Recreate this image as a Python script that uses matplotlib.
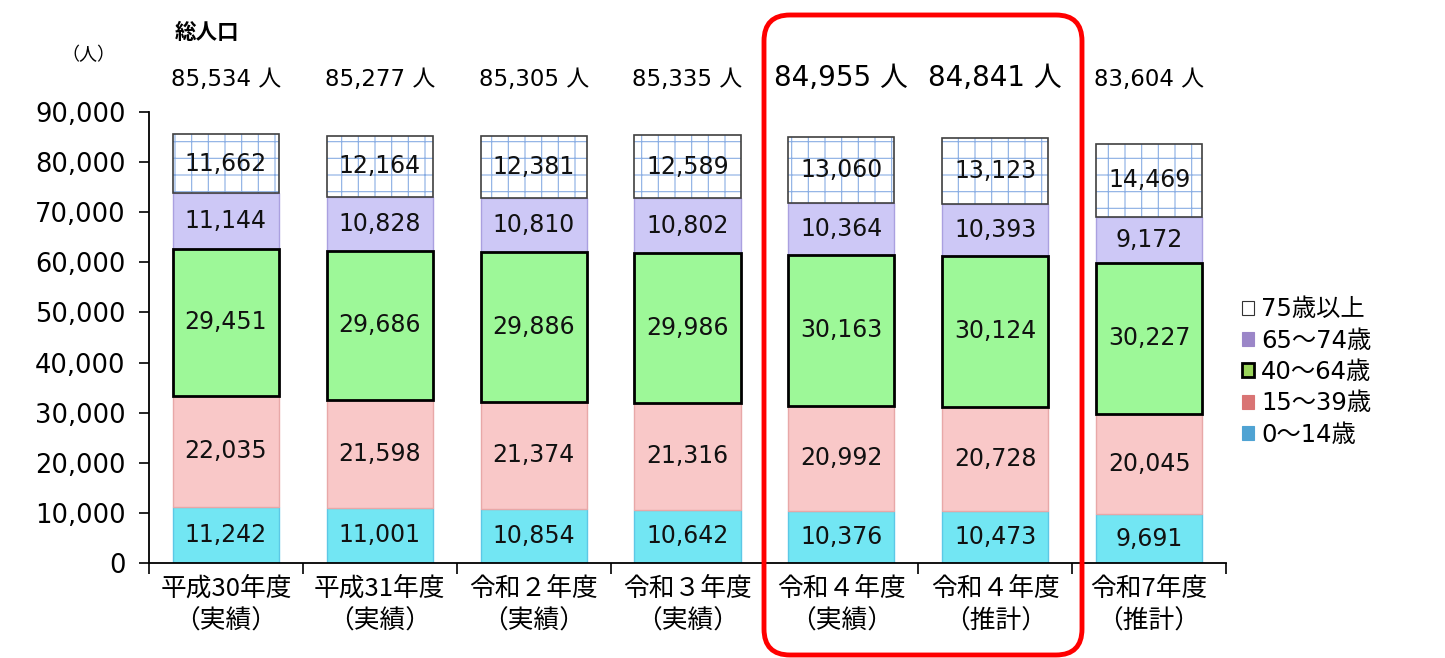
import matplotlib
matplotlib.use("Agg")
import matplotlib.pyplot as plt
import numpy as np
from matplotlib.patches import Patch, FancyBboxPatch
from matplotlib.transforms import IdentityTransform

plt.rcParams['font.family'] = ['DejaVu Sans', 'Noto Sans CJK JP']
plt.rcParams['hatch.linewidth'] = 0.8

categories = ["平成30年度\n（実績）", "平成31年度\n（実績）", "令和２年度\n（実績）",
              "令和３年度\n（実績）", "令和４年度\n（実績）", "令和４年度\n（推計）",
              "令和7年度\n（推計）"]
age_0_14 = [11242, 11001, 10854, 10642, 10376, 10473, 9691]
age_15_39 = [22035, 21598, 21374, 21316, 20992, 20728, 20045]
age_40_64 = [29451, 29686, 29886, 29986, 30163, 30124, 30227]
age_65_74 = [11144, 10828, 10810, 10802, 10364, 10393, 9172]
age_75_up = [11662, 12164, 12381, 12589, 13060, 13123, 14469]
highlight = [False, False, False, False, True, True, False]

series = [age_0_14, age_15_39, age_40_64, age_65_74, age_75_up]
names = ["0～14歳", "15～39歳", "40～64歳", "65～74歳", "75歳以上"]
fills = ["#72e6f3", "#f9c8c8", "#9df898", "#cdc8f6", "#ffffff"]
edges = ["#5cc8e6", "#e8a8a8", "#000000", "#aaa0e0", "#404040"]
lws = [1.0, 1.0, 2.0, 1.0, 1.2]
legend_fill = ["#4fa3d3", "#d97474", "#9bd55b", "#9b86c8", "#ffffff"]
legend_edge = ["#4fa3d3", "#d97474", "#000000", "#9b86c8", "#333333"]

fig = plt.figure(figsize=(14.45, 6.58), dpi=100)
ax = fig.add_axes([149 / 1445, 1 - 563 / 658, (1226 - 149) / 1445, (563 - 112) / 658])

x = np.arange(len(categories))
width = 0.69
bottom = np.zeros(len(categories))
for i, (vals, fc, ec, lw) in enumerate(zip(series, fills, edges, lws)):
    vals = np.array(vals)
    if i == 4:
        ax.bar(x, vals, width, bottom=bottom, color=fc, edgecolor="#8aaee3",
               linewidth=0, hatch="+", zorder=2)
        ax.bar(x, vals, width, bottom=bottom, color="none", edgecolor=ec,
               linewidth=lw, zorder=3)
    else:
        ax.bar(x, vals, width, bottom=bottom, color=fc, edgecolor=ec,
               linewidth=lw, zorder=3 if i == 2 else 2)
    for xi, b, v in zip(x, bottom, vals):
        ax.text(xi, b + v / 2, f"{v:,}", ha="center", va="center",
                fontsize=17, zorder=5, color="#111111")
    bottom = bottom + vals

totals = bottom
for xi, t, h in zip(x, totals, highlight):
    ax.text(xi, 96700 if h else 96400, f"{int(t):,} 人", ha="center", va="center",
            fontsize=20 if h else 16.5, clip_on=False)

ax.set_xlim(-0.5, len(categories) - 0.5)
ax.set_ylim(0, 90000)
ax.set_yticks(np.arange(0, 90001, 10000))
ax.set_yticklabels([f"{v:,}" for v in range(0, 90001, 10000)], fontsize=18.5)
ax.set_xticks(x)
ax.set_xticklabels(categories, fontsize=18.5, linespacing=1.35,
                   family=['Noto Sans CJK JP'])
ax.set_xticks(np.arange(-0.5, len(categories), 1.0), minor=True)
ax.tick_params(axis="x", which="major", length=0, pad=9)
ax.tick_params(axis="x", which="minor", length=8, direction="out", width=1.2)
ax.tick_params(axis="y", length=7, width=1.2, direction="out", pad=10)
for s in ["top", "right"]:
    ax.spines[s].set_visible(False)
for s in ["left", "bottom"]:
    ax.spines[s].set_linewidth(1.3)

fig.text(175 / 1445, 1 - 33 / 658, "総人口", fontsize=15.5, fontweight="bold",
         ha="left", va="center")
fig.text(88 / 1445, 1 - 55 / 658, "（人）", fontsize=13, ha="center", va="center",
         family=['Noto Sans CJK JP'])

handles = [Patch(facecolor=f, edgecolor=e, linewidth=2 if n == "40～64歳" else 0.8, label=n)
           for f, e, n in zip(legend_fill, legend_edge, names)][::-1]
fig.legend(handles=handles, loc="center left", bbox_to_anchor=(1232 / 1445, 1 - 372 / 658),
           frameon=False, fontsize=17.5, handlelength=0.5, handleheight=0.5,
           handletextpad=0.3, labelspacing=0.3, borderaxespad=0)

box = FancyBboxPatch((764, 658 - 655), 318, 640, boxstyle="round,pad=0,rounding_size=26",
                     transform=IdentityTransform(), facecolor="none", edgecolor="#ff0000",
                     linewidth=3.5, zorder=10)
fig.patches.append(box)

fig.savefig("out.png", dpi=100)
